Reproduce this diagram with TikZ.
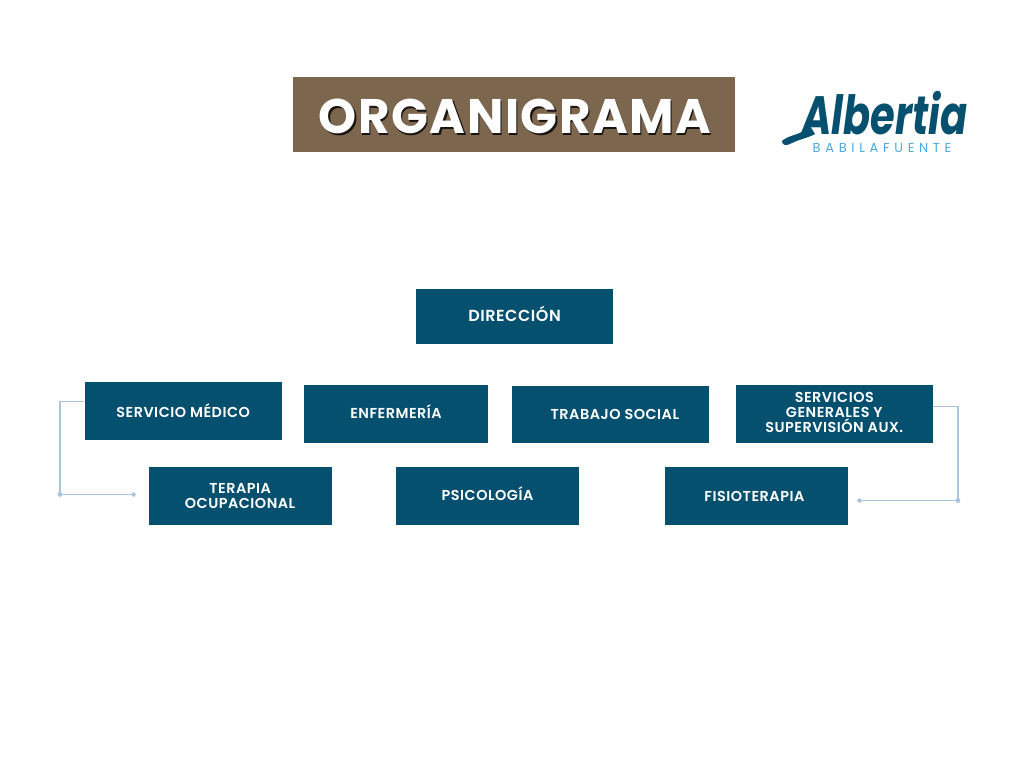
\documentclass[tikz,border=0pt]{standalone}
\usepackage{fontspec}
\setmainfont{Poppins}
\newfontfamily\fuentecargo{Poppins SemiBold}
\usepackage{xcolor}
\usetikzlibrary{positioning, arrows.meta}
\definecolor{azulcargo}{HTML}{05506F}
\definecolor{marron}{HTML}{7D664E}
\definecolor{enlacecol}{HTML}{A9C4DE}
\definecolor{celeste}{HTML}{4AA8DF}
\begin{document}
\begin{tikzpicture}[
  x=1pt, y=-1pt,
  cargo/.style={rectangle, fill=azulcargo, text=white, align=center, inner sep=0pt,
                font=\fontsize{14.4}{15}\fuentecargo\addfontfeature{LetterSpace=3.5},
                minimum width=197pt, minimum height=58pt},
  cargob/.style={cargo, minimum width=183pt},
  unalinea/.style={text height=#1, text depth=0pt},
  unalinea/.default=10pt,
  enlace/.style={enlacecol, line width=1.1pt},
  remate/.style={-{Circle[length=5pt]}, enlacecol, line width=1.1pt},
  titulo/.style={font=\fontsize{48.5}{50}\selectfont\bfseries\addfontfeature{LetterSpace=3}, inner sep=0pt},
]
\useasboundingbox (0,0) rectangle (1024,768);
% --- cabecera ---
\node[rectangle, fill=marron, minimum width=442pt, minimum height=75pt, inner sep=0pt] (banda) at (514,114.5) {};
\node[titulo, text=black!80!marron] (sombra) at (516.5,118) {ORGANIGRAMA};
\node[titulo, text=white] (rotulo) at (515,116) {ORGANIGRAMA};
% --- logo ---
\node[font=\fontsize{40}{44}\selectfont\bfseries\itshape, text=azulcargo, inner sep=0pt, text depth=0pt,
      transform shape, yscale=1.35] (marca) at (885,113) {Albertia};
\fill[azulcargo] (810,126) .. controls (800,136) and (790,134) .. (782,141)
  .. controls (782,146) and (787,146) .. (792,143) .. controls (800,139) and (808,138) .. (815,134) -- cycle;
\node[font=\fontsize{13}{15}\selectfont\addfontfeature{LetterSpace=36}, text=celeste, inner sep=0pt] (sede) at (882,148.5) {BABILAFUENTE};
% --- fila superior ---
\node[cargo, unalinea=9pt, minimum height=55pt, font=\fontsize{16}{18}\fuentecargo\addfontfeature{LetterSpace=3.5}] (direccion) at (514.5,316.5) {DIRECCIÓN};
\node[cargo, unalinea=12pt, below left=38pt and 134pt of direccion] (medico) {SERVICIO MÉDICO};
\node[cargob, unalinea=8pt, minimum width=184pt, right=22pt of medico, yshift=-3pt] (enfermeria) {ENFERMERÍA};
\node[cargo, unalinea, minimum height=57pt, right=24pt of enfermeria] (social) {\hspace*{8pt}TRABAJO SOCIAL};
\node[cargo, text depth=4pt, right=26pt of social] (generales) {SERVICIOS\\GENERALES Y\\SUPERVISIÓN AUX.};
% --- fila inferior ---
\node[cargob, text depth=-2pt, below=26pt of medico.south west, anchor=north west, xshift=64pt] (terapia) {TERAPIA\\OCUPACIONAL};
\node[cargob, unalinea, right=64pt of terapia] (psicologia) {PSICOLOGÍA};
\node[cargob, unalinea=12pt, right=86pt of psicologia] (fisioterapia) {FISIOTERAPIA\hspace*{5pt}};
% --- enlaces ---
\coordinate (codoa) at (60,494.5);
\coordinate (finala) at (136,494.5);
\coordinate (codob) at (958,500.5);
\coordinate (finalb) at (857,500.5);
\draw[enlace] ([yshift=10pt]medico.west) -| (codoa);
\draw[remate] (codoa) -- (finala);
\fill[enlacecol] (codoa) circle (2.4pt);
\draw[enlace] ([yshift=7.5pt]generales.east) -| (codob);
\draw[remate] (codob) -- (finalb);
\fill[enlacecol] (codob) circle (2.4pt);
\end{tikzpicture}
\end{document}
